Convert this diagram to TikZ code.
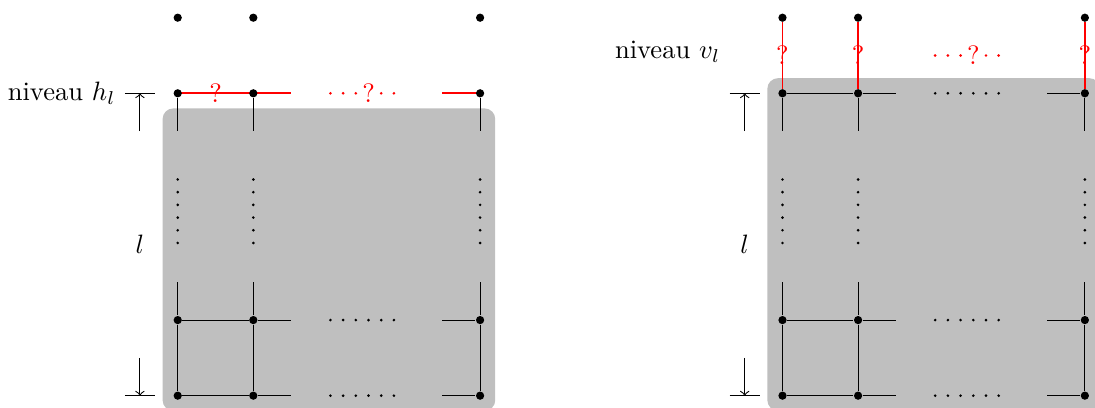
\documentclass[tikz,border=0pt]{standalone}
\begin{document}
\begin{tikzpicture}[
  vtx/.style={circle,fill=black,inner sep=0pt,minimum size=3.1pt},
  edge/.style={black,line width=0.4pt},
  redge/.style={red,line width=0.5pt},
  hredge/.style={red,line width=0.6pt},
  ddot/.style={circle,fill=black,inner sep=0pt,minimum size=1.1pt},
  rdot/.style={ddot,fill=red},
  board/.style={fill=black!25,rounded corners=4pt},
  qm/.style={text=red,inner sep=0pt},
  lab/.style={left,inner sep=3.33pt}
]
\useasboundingbox (-2.351,-0.163) rectangle (12.134,5.234);
\clip (-2.351,-0.163) rectangle (12.134,5.234);
\fill[board] (-0.2,-0.2) rectangle (4.2,3.8);
\fill[board] (7.8,-0.2) rectangle (12.2,4.2);

% left panel: horizontal level h_l in red (drawn first, under the dots)
\coordinate (Lr0) at (0,4);
\coordinate (Lr1) at (1.5,4);
\coordinate (Lr2) at (3.5,4);
\coordinate (Lr3) at (4,4);
\draw[hredge] (Lr0) -- (Lr1);
\draw[hredge] (Lr2) -- (Lr3);

\foreach \P/\s in {L/0,R/8}{
  \foreach \cc/\x in {a/0,b/1,d/4}{
    \foreach \yy in {0,1,4,5} \node[vtx] (\P\cc\yy) at ({\s+\x},\yy) {};
    \coordinate (\P\cc s4) at ({\s+\x},3.5);
    \coordinate (\P\cc s1) at ({\s+\x},1.5);
    \draw[edge] (\P\cc4) -- (\P\cc s4);
    \draw[edge] (\P\cc s1) -- (\P\cc1) -- (\P\cc0);
    \foreach \k in {0,...,5} \node[ddot] (\P\cc v\k) at ({\s+\x},{2.02+0.168*\k}) {};
  }
  \foreach \yy in {0,1,4}{
    \coordinate (\P h\yy a) at ({\s+1.5},\yy);
    \coordinate (\P h\yy b) at ({\s+3.5},\yy);
  }
  \foreach \yy in {0,1}{
    \draw[edge] (\P a\yy) -- (\P b\yy) -- (\P h\yy a);
    \draw[edge] (\P h\yy b) -- (\P d\yy);
    \foreach \k in {0,...,5} \node[ddot] (\P h\yy d\k) at ({\s+2.02+0.168*\k},\yy) {};
  }
  % level markers
  \coordinate (\P ta) at ({\s-0.7},4);
  \coordinate (\P tb) at ({\s-0.3},4);
  \draw[edge] (\P ta) -- (\P tb);
  \coordinate (\P ba) at ({\s-0.7},0);
  \coordinate (\P bb) at ({\s-0.3},0);
  \draw[edge] (\P ba) -- (\P bb);
  \coordinate (\P u0) at ({\s-0.5},3.5);
  \coordinate (\P u1) at ({\s-0.5},4);
  \draw[edge,->] (\P u0) -- (\P u1);
  \coordinate (\P w0) at ({\s-0.5},0.5);
  \coordinate (\P w1) at ({\s-0.5},0);
  \draw[edge,->] (\P w0) -- (\P w1);
  \node (\P l) at ({\s-0.5},2) {$l$};
}

\node[qm] (Lq0) at (0.5,4) {?};
\foreach \k in {0,1,2,4,5} \node[rdot] (Lh4d\k) at ({2.02+0.168*\k},4) {};
\node[qm] (Lq1) at (2.524,4) {?};
\node[lab] (Llab) at (-0.7,4) {niveau $h_l$};

% right panel: vertical level v_l in red
\draw[edge] (Ra4) -- (Rb4) -- (Rh4a);
\draw[edge] (Rh4b) -- (Rd4);
\foreach \k in {0,...,5} \node[ddot] (Rh4d\k) at ({8+2.02+0.168*\k},4) {};
\foreach \cc/\n in {a/0,b/1,d/2} \draw[redge] (R\cc5) -- node[qm] (Rq\n) {?} (R\cc4);
\foreach \k in {0,1,2,4,5} \node[rdot] (Rr\k) at ({8+2.02+0.168*\k},4.5) {};
\node[qm] (Rq3) at (10.524,4.5) {?};
\node[lab] (Rlab) at (7.3,4.55) {niveau $v_l$};
\end{tikzpicture}
\end{document}
